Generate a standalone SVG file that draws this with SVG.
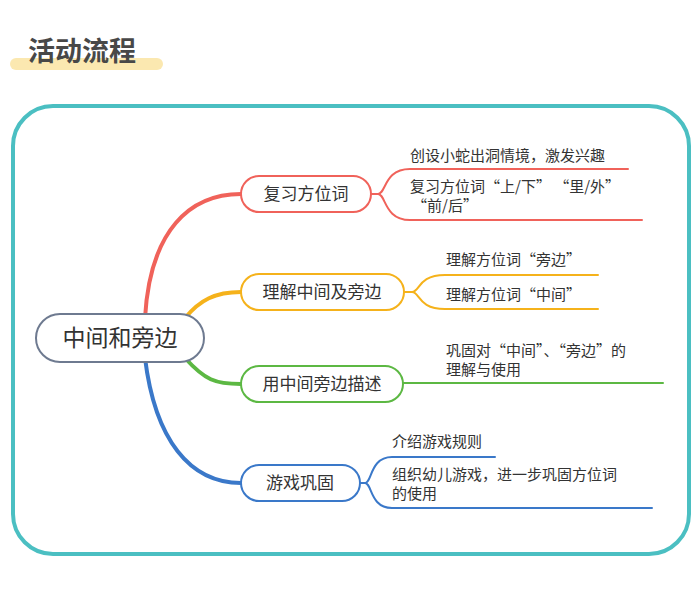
<svg xmlns="http://www.w3.org/2000/svg" width="700" height="591" viewBox="0 0 700 591">
<style>
text{font-family:"Noto Sans CJK SC","Noto Sans",sans-serif;fill:#333}
.t{font-size:15px}
.n{font-size:17px}
.c{fill:none;stroke-linecap:round}
.box{fill:#fff;stroke-width:2}
</style>
<rect width="700" height="591" fill="#fff"/>
<rect x="10" y="58" width="153" height="12" rx="6" fill="#fbe8b0"/>
<text x="28" y="61" style="font-size:27px;font-weight:bold;fill:#484848">活动流程</text>
<rect x="13" y="106" width="676" height="448" rx="40" fill="none" stroke="#4bbfc2" stroke-width="4"/>
<g id="connectors">
<path class="c" d="M145,318 C150,230 190,194 241,194" stroke="#f0625a" stroke-width="4"/>
<path class="c" d="M185,318 C200,300 215,292 241,292" stroke="#f5b21b" stroke-width="4"/>
<path class="c" d="M185,358 C205,380 215,384 241,384" stroke="#5cb843" stroke-width="4"/>
<path class="c" d="M145,358 C155,440 190,483 241,483" stroke="#3a78c9" stroke-width="4"/>
<path class="c" d="M371,194 H378 C386,194 384,169 410,169 H628 M378,194 C386,194 384,220 410,220 H642" stroke="#f0625a" stroke-width="2"/>
<path class="c" d="M404,292 H412 C420,292 418,275 445,275 H598 M412,292 C420,292 418,309 445,309 H598" stroke="#f5b21b" stroke-width="2"/>
<path class="c" d="M403,383 H663" stroke="#5cb843" stroke-width="2"/>
<path class="c" d="M360,483 H365 C372,483 370,457 392,457 H495 M365,483 C372,483 370,508 392,508 H652" stroke="#3a78c9" stroke-width="2"/>
</g>
<g id="center"><rect class="box" x="36" y="314" width="168" height="48" rx="24" stroke="#6e7a90"/><text x="120" y="346" text-anchor="middle" style="font-size:23px">中间和旁边</text></g>
<g id="n1"><rect class="box" x="241" y="176" width="130" height="36" rx="18" stroke="#f0625a"/><text class="n" x="306" y="200" text-anchor="middle">复习方位词</text></g>
<g id="n2"><rect class="box" x="241" y="274" width="163" height="36" rx="18" stroke="#f5b21b"/><text class="n" x="322" y="298" text-anchor="middle">理解中间及旁边</text></g>
<g id="n3"><rect class="box" x="241" y="366" width="162" height="36" rx="18" stroke="#5cb843"/><text class="n" x="322" y="390" text-anchor="middle">用中间旁边描述</text></g>
<g id="n4"><rect class="box" x="241" y="465" width="119" height="36" rx="18" stroke="#3a78c9"/><text class="n" x="300" y="489" text-anchor="middle">游戏巩固</text></g>
<g id="leaves">
<text class="t" x="410" y="161">创设小蛇出洞情境，激发兴趣</text>
<text class="t" x="410" y="192">复习方位词“上/下” “里/外”</text>
<text class="t" x="412" y="211">“前/后”</text>
<text class="t" x="446" y="265">理解方位词“旁边”</text>
<text class="t" x="446" y="300">理解方位词“中间”</text>
<text class="t" x="446" y="356">巩固对“中间”、“旁边”的</text>
<text class="t" x="446" y="375">理解与使用</text>
<text class="t" x="392" y="447">介绍游戏规则</text>
<text class="t" x="392" y="480">组织幼儿游戏，进一步巩固方位词</text>
<text class="t" x="392" y="499">的使用</text>
</g>
</svg>
